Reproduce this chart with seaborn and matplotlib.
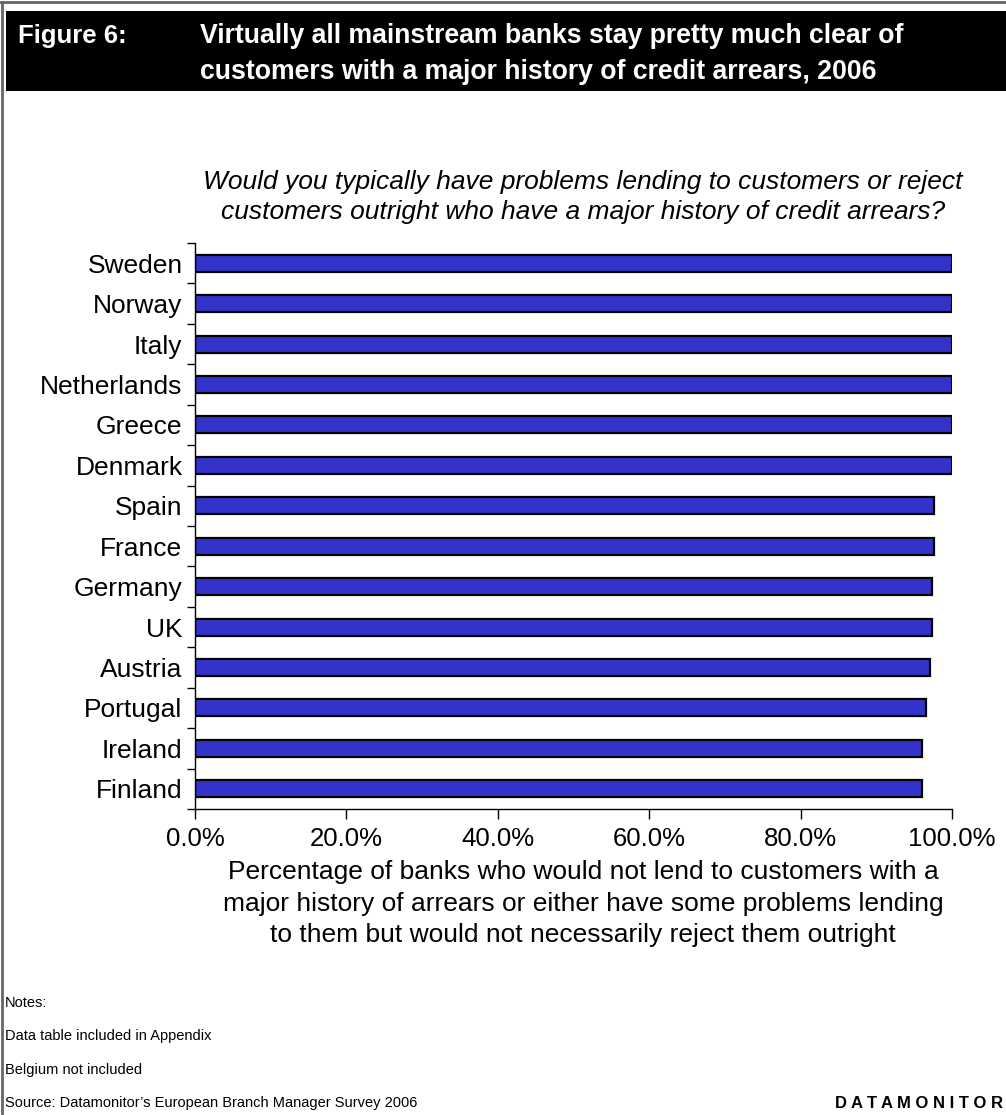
import matplotlib
matplotlib.use("Agg")
import matplotlib.pyplot as plt
from matplotlib.patches import Rectangle
from matplotlib.lines import Line2D
from matplotlib.ticker import PercentFormatter
import pandas as pd
import seaborn as sns

countries = ["Sweden", "Norway", "Italy", "Netherlands", "Greece", "Denmark",
             "Spain", "France", "Germany", "UK", "Austria", "Portugal",
             "Ireland", "Finland"]
share = [100.0, 100.0, 100.0, 100.0, 100.0, 100.0,
         97.6, 97.6, 97.3, 97.3, 97.1, 96.6, 96.1, 96.1]
xticks = [0, 20, 40, 60, 80, 100]

title_lines = ["Virtually all mainstream banks stay pretty much clear of",
               "customers with a major history of credit arrears, 2006"]
question = ("Would you typically have problems lending to customers or reject\n"
            "customers outright who have a major history of credit arrears?")
xlabel = ("Percentage of banks who would not lend to customers with a\n"
          "major history of arrears or either have some problems lending\n"
          "to them but would not necessarily reject them outright")
notes = ["Notes:", "Data table included in Appendix", "Belgium not included",
         "Source: Datamonitor\u2019s European Branch Manager Survey 2006"]

df = pd.DataFrame({"country": countries, "share": share})

sns.set_theme(style="white")
plt.rcParams["font.family"] = ["Liberation Sans", "DejaVu Sans"]
plt.rcParams["text.color"] = "black"
plt.rcParams["axes.labelcolor"] = "black"
plt.rcParams["xtick.color"] = "black"
plt.rcParams["ytick.color"] = "black"

W, H = 1006, 1115
fig = plt.figure(figsize=(W / 100, H / 100), dpi=100)

# Page frame and heading band
fig.add_artist(Line2D([1.5 / W, 1.5 / W], [0, 1 - 1.5 / H], transform=fig.transFigure,
                      color="#666666", lw=2))
fig.add_artist(Line2D([0, 1], [1 - 1.5 / H, 1 - 1.5 / H], transform=fig.transFigure,
                      color="#666666", lw=2))
fig.add_artist(Rectangle((6 / W, 1 - 91 / H), 1.0, 80 / H, transform=fig.transFigure,
                         facecolor="black", edgecolor="none"))
fig.text(18 / W, 1 - 36 / H, "Figure 6:", color="white", fontsize=18.5, fontweight="bold",
         va="center", ha="left")
for i, line in enumerate(title_lines):
    fig.text(200 / W, 1 - (36 + 36 * i) / H, line, color="white", fontsize=19.2,
             fontweight="bold", va="center", ha="left")

fig.text(583 / W, 1 - 197 / H, question, fontsize=19, style="italic",
         ha="center", va="center", linespacing=1.3)

ax = fig.add_axes([195 / W, (H - 809) / H, (952 - 195) / W, (809 - 243) / H])
sns.barplot(data=df, x="share", y="country", orient="h", color="#3333CC",
            saturation=1, edgecolor="black", linewidth=1.6, width=0.42, ax=ax)
ax.set_xlim(0, 100)
ax.set_ylim(len(countries) - 0.5, -0.5)
ax.set_xticks(xticks)
ax.xaxis.set_major_formatter(PercentFormatter(decimals=1))
ax.set_yticks([i - 0.5 for i in range(len(countries) + 1)], minor=False)
ax.set_yticklabels([])
ax.set_yticks(range(len(countries)), minor=True)
ax.set_yticklabels(countries, minor=True)
ax.tick_params(axis="y", which="minor", length=0, pad=9, labelsize=19)
ax.tick_params(axis="y", which="major", length=6, width=1, direction="out", left=True)
ax.tick_params(axis="x", length=7, width=1, direction="out", bottom=True,
               labelsize=18.5, pad=6)
for s in ["top", "right"]:
    ax.spines[s].set_visible(False)
for s in ["left", "bottom"]:
    ax.spines[s].set_color("black")
    ax.spines[s].set_linewidth(1)
ax.set_ylabel("")
ax.set_xlabel(xlabel, fontsize=19, linespacing=1.4)
ax.xaxis.set_label_coords((583 - 195) / (952 - 195), -(860 - 809) / (809 - 243))
ax.xaxis.label.set_verticalalignment("top")

for i, t in enumerate(notes):
    fig.text(5 / W, 1 - (1003 + 33.3 * i) / H, t, fontsize=10.5,
             ha="left", va="center")
fig.text(1003 / W, 1 - 1103 / H, "D A T A M O N I T O R", fontsize=12, fontweight="bold",
         ha="right", va="center")

fig.savefig("out.png", dpi=100, facecolor="white")
